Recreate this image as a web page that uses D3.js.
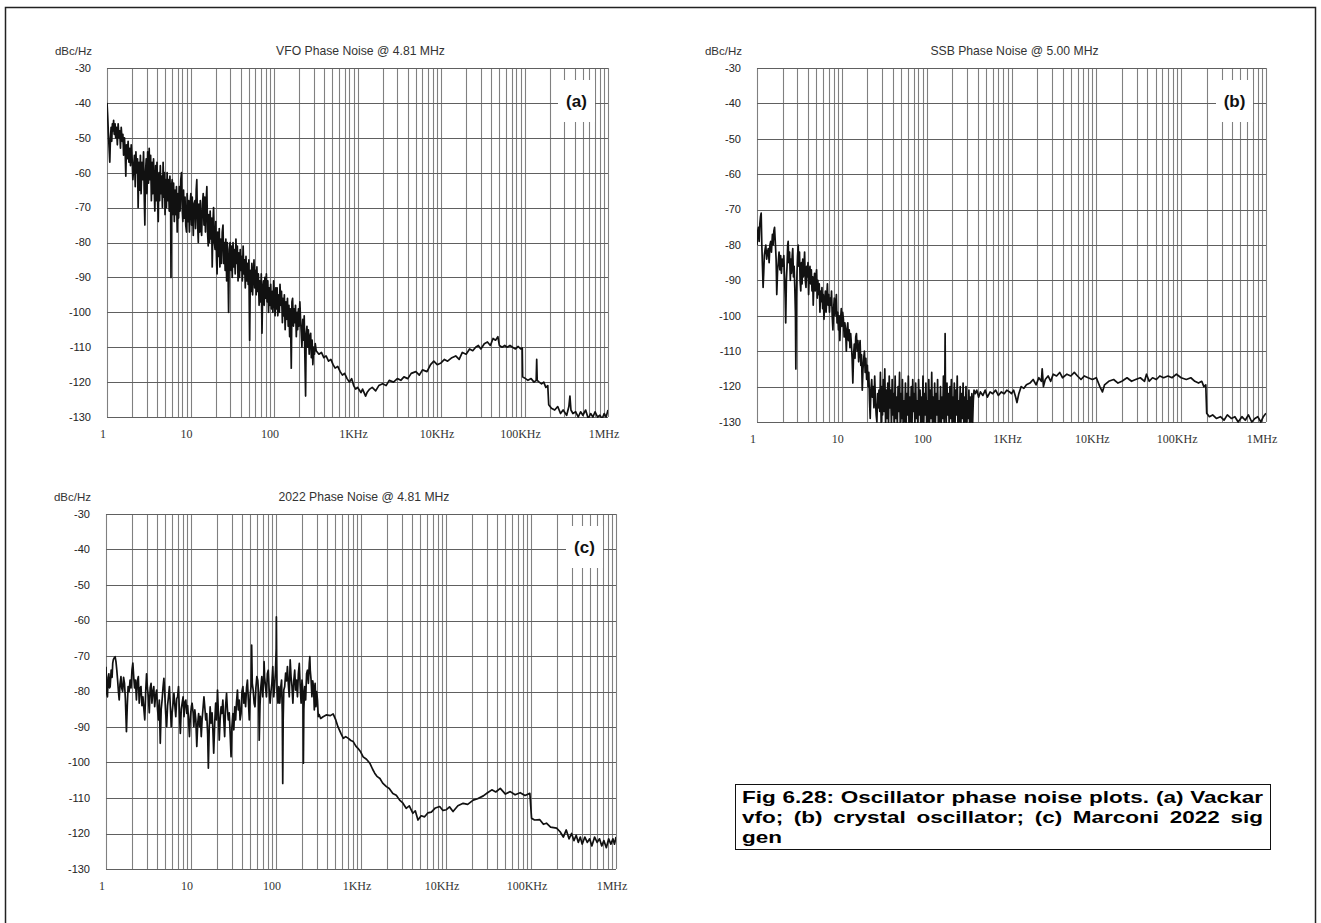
<!DOCTYPE html>
<html>
<head>
<meta charset="utf-8">
<script src="https://d3js.org/d3.v7.min.js"></script>
<style>
  body { margin: 0; background: #fff; }
  svg { font-family: "Liberation Sans", Arial, sans-serif; }
</style>
</head>
<body>
<script>
"use strict";

// ---- data ----
var yTicks = [-30, -40, -50, -60, -70, -80, -90, -100, -110, -120, -130];
var xTickValues = [1, 10, 100, 1e3, 1e4, 1e5, 1e6];
var xTickLabels = ["1", "10", "100", "1KHz", "10KHz", "100KHz", "1MHz"];

var panelTitles = ["VFO Phase Noise @ 4.81 MHz", "SSB Phase Noise @ 5.00 MHz", "2022 Phase Noise @ 4.81 MHz"];
var panelTags = ["(a)", "(b)", "(c)"];

// (a) Vackar VFO, [offset Hz, dBc/Hz]
var vfoNoise = [
  [1.00,-40],[1.02,-44],[1.04,-49],[1.06,-53],[1.08,-57],[1.10,-50],[1.12,-47],[1.14,-51],[1.16,-46],[1.18,-48],
  [1.20,-45],[1.22,-49],[1.25,-46],[1.27,-50],[1.30,-47],[1.33,-52],[1.36,-46],[1.39,-50],[1.42,-48],[1.45,-53],
  [1.48,-47],[1.52,-51],[1.55,-49],[1.58,-55],[1.62,-50],[1.65,-54],[1.68,-61],[1.71,-52],[1.75,-56],[1.79,-51],
  [1.83,-57],[1.87,-53],[1.91,-58],[1.95,-52],[2.0,-56],[2.04,-62],[2.08,-59],[2.13,-55],[2.18,-64],[2.22,-54],
  [2.27,-60],[2.32,-56],[2.36,-70],[2.41,-57],[2.46,-65],[2.51,-55],[2.56,-66],[2.62,-57],[2.68,-62],[2.74,-54],
  [2.80,-68],[2.84,-75],[2.89,-60],[2.95,-56],[3.01,-66],[3.07,-54],[3.14,-63],[3.2,-53],[3.26,-62],[3.33,-55],
  [3.40,-68],[3.47,-57],[3.54,-66],[3.61,-56],[3.68,-65],[3.74,-71],[3.82,-58],[3.90,-68],[3.97,-57],[4.05,-69],
  [4.11,-74],[4.19,-60],[4.27,-68],[4.35,-58],[4.43,-66],[4.52,-61],[4.61,-70],[4.70,-57],[4.79,-67],[4.88,-60],
  [4.96,-72],[5.05,-62],[5.15,-70],[5.25,-60],[5.35,-68],[5.45,-62],[5.56,-71],[5.67,-61],[5.78,-69],[5.84,-90],
  [5.92,-64],[6.04,-62],[6.16,-72],[6.28,-63],[6.4,-74],[6.53,-65],[6.66,-72],[6.79,-64],[6.93,-77],[7.07,-66],
  [7.2,-73],[7.35,-64],[7.5,-71],[7.65,-62],[7.8,-60],[7.95,-70],[8.1,-74],[8.26,-65],[8.42,-73],[8.6,-67],
  [8.77,-75],[8.95,-77],[9.12,-66],[9.3,-74],[9.5,-68],[9.7,-77],[9.9,-69],
  [10.1,-66],[10.3,-75],[10.5,-67],[10.8,-78],[11.0,-69],[11.3,-68],[11.5,-76],[11.7,-65],[11.9,-62],[12.1,-73],
  [12.4,-80],[12.6,-69],[12.9,-77],[13.1,-68],[13.4,-76],[13.6,-78],[13.9,-69],[14.2,-66],[14.5,-75],[14.8,-67],
  [15.1,-77],[15.4,-68],[15.7,-64],[16.0,-77],[16.3,-81],[16.6,-72],[16.9,-80],[17.2,-71],[17.5,-79],[17.9,-73],
  [18.2,-87],[18.6,-74],[18.9,-70],[19.3,-80],[19.7,-82],[20.1,-74],[20.5,-85],[20.8,-89],[21.2,-77],[21.7,-84],
  [22.1,-76],[22.5,-87],[23.0,-79],[23.5,-86],[24.0,-77],[24.5,-75],[25.0,-86],[25.5,-80],[26.0,-88],[26.5,-79],
  [27.1,-91],[27.6,-80],[28.1,-87],[28.6,-100],[29.2,-82],[29.8,-80],[30.4,-88],[31.0,-81],[31.6,-90],[32.3,-80],
  [32.9,-87],[33.6,-82],[34.3,-89],[35,-79],[35.7,-86],[36.4,-81],[37.1,-91],[37.9,-83],[38.6,-90],[39.4,-82],
  [40.2,-88],[41,-84],[41.8,-91],[42.7,-81],[43.5,-89],[44.4,-85],[45.3,-93],[46.2,-84],[47.1,-91],[48.1,-86],
  [49,-92],[50,-85],[51.1,-108],[52.1,-88],[53.2,-94],[54.3,-86],[55.4,-95],[56.5,-89],[57.6,-85],[58.8,-93],
  [60,-88],[61.2,-95],[62.4,-87],[63.7,-94],[65,-89],[66.3,-98],[67.6,-91],[69,-97],[70.4,-89],[71.8,-106],
  [73.3,-93],[74.8,-91],[76.3,-98],[77.8,-90],[79.4,-96],[81,-89],[82.6,-97],[84.3,-91],[86,-100],[87.7,-93],
  [89.5,-98],[91.3,-92],[93.2,-99],[95.1,-94],[97,-100],[99,-91],
  [101,-96],[103,-101],[105,-93],[107,-99],[109,-93],[111,-101],[114,-95],[116,-100],[118,-92],[121,-98],
  [123,-94],[126,-103],[128,-96],[131,-101],[133,-95],[136,-105],[139,-97],[142,-102],[145,-96],[148,-104],
  [151,-98],[154,-107],[157,-99],[161,-116],[164,-97],[167,-96],[171,-104],[174,-99],[178,-103],[181,-98],
  [185,-107],[189,-100],[192,-105],[196,-99],[200,-104],[204,-97],[208,-102],[212,-106],[216,-110],[221,-102],
  [225,-108],[230,-101],[234,-112],[239,-124],[243,-106],[248,-104],[253,-110],[258,-105],[264,-112],[269,-107],
  [275,-106],[280,-113],[286,-108],[292,-115],[298,-110],[305,-112],[312,-109],
  [320,-111],[345,-112],[370,-111.5],[395,-113],[420,-112.5],[450,-114],[480,-113.5],[510,-115],[540,-116],[580,-115.5],
  [620,-117],[660,-118],[700,-117.5],[750,-119],[800,-120],[850,-119],[900,-121],[950,-122],[1000,-121.5],[1100,-123],
  [1150,-122],[1250,-124],[1300,-123],[1400,-122],[1500,-121.5],[1650,-122.5],[1800,-121],[2000,-120.5],[2200,-121],[2400,-119.5],
  [2700,-120],[3000,-119],[3300,-119.5],[3600,-118.5],[4000,-119],[4400,-117.5],[5000,-117],[5500,-118],[6000,-116.5],[6800,-117],
  [7500,-115],[8200,-114],[9000,-115],[10000,-114.5],[11000,-113.5],[12000,-114],[13500,-113],[15000,-112.5],[16500,-113.5],[18000,-111.5],
  [20000,-112],[22000,-110.5],[24000,-111],[26000,-110],[28000,-109.5],[30000,-110.5],[33000,-109],[36000,-108.5],[39000,-109.5],[42000,-107.5],
  [45000,-108],[48000,-107],[50000,-109.5],[54000,-110],[58000,-109.5],[62000,-110],[67000,-109.5],[72000,-110],[78000,-110.5],[84000,-109.8],
  [90000,-110.5],[94000,-110.2],[95000,-118.5],[100000,-118.8],[110000,-119.5],[120000,-119],[130000,-120],[138000,-119.5],[140000,-113.5],[142000,-119.5],
  [150000,-120],[160000,-120.5],[170000,-120],[180000,-121.5],[190000,-121],[195000,-126.5],[210000,-127.5],[230000,-128],[250000,-127],[270000,-129],
  [290000,-128],[320000,-129.5],[340000,-127],[350000,-124],[360000,-128],[380000,-129],[410000,-128.5],[440000,-130],[470000,-128.5],[500000,-129.5],
  [540000,-128],[580000,-130.5],[620000,-129],[660000,-130],[700000,-128.5],[750000,-130],[800000,-129.5],[850000,-130.5],[900000,-129],[950000,-130],
  [1000000,-128]
];

// (b) crystal oscillator
var ssbNoise = [
  [1.00,-80],[1.02,-76],[1.04,-75],[1.06,-79],[1.08,-74],[1.10,-72],[1.12,-71],[1.14,-80],[1.16,-86],[1.18,-92],
  [1.20,-88],[1.22,-83],[1.25,-81],[1.27,-80],[1.30,-84],[1.33,-82],[1.36,-81],[1.39,-85],[1.42,-80],[1.45,-79],
  [1.48,-82],[1.52,-77],[1.55,-80],[1.58,-76],[1.61,-75],[1.65,-80],[1.68,-84],[1.71,-94],[1.75,-87],[1.78,-85],
  [1.82,-82],[1.86,-87],[1.90,-83],[1.94,-88],[1.98,-84],[2.03,-86],[2.07,-83],[2.11,-89],[2.15,-95],[2.18,-102],
  [2.22,-90],[2.26,-86],[2.30,-80],[2.33,-79],[2.37,-85],[2.42,-82],[2.47,-90],[2.51,-84],[2.55,-88],[2.60,-83],
  [2.64,-81],[2.69,-89],[2.74,-86],[2.79,-92],[2.84,-100],[2.87,-115],[2.91,-95],[2.96,-88],[3.01,-83],[3.06,-80],
  [3.11,-86],[3.17,-82],[3.22,-90],[3.28,-93],[3.34,-85],[3.40,-91],[3.46,-84],[3.52,-89],[3.58,-86],[3.64,-82],
  [3.71,-90],[3.78,-92],[3.85,-86],[3.92,-89],[3.99,-85],[4.06,-94],[4.13,-88],[4.21,-86],[4.29,-91],[4.37,-87],
  [4.45,-93],[4.53,-89],[4.6,-97],[4.68,-91],[4.77,-88],[4.86,-93],[4.95,-89],[5.04,-87],[5.13,-95],[5.22,-90],
  [5.32,-94],[5.42,-91],[5.52,-99],[5.62,-93],[5.72,-96],[5.83,-92],[5.94,-98],[6.05,-94],[6.16,-101],[6.28,-96],
  [6.4,-93],[6.52,-99],[6.64,-95],[6.76,-91],[6.89,-97],[7.02,-94],[7.15,-99],[7.28,-95],[7.42,-97],[7.56,-93],
  [7.7,-100],[7.85,-104],[8.0,-98],[8.15,-95],[8.3,-100],[8.46,-97],[8.62,-94],[8.78,-102],[8.95,-99],[9.12,-104],
  [9.3,-100],[9.48,-107],[9.66,-101],[9.85,-98],[10.04,-103],[10.24,-99],[10.44,-101],[10.65,-106],[10.86,-102],[11.07,-104],
  [11.3,-110],[11.52,-104],[11.75,-102],[11.98,-107],[12.22,-104],[12.46,-109],[12.71,-105],[12.96,-108],[13.22,-112],[13.48,-119],
  [13.75,-111],[14.02,-108],[14.3,-112],[14.58,-106],[14.87,-105],[15.17,-110],[15.47,-107],[15.78,-113],[16.09,-109],[16.41,-107],
  [16.74,-114],[17.07,-111],[17.41,-121],[17.76,-115],[18.11,-112],[18.47,-110],[18.84,-116],[19.2,-112],[19.6,-118],[20,-114],
  [20.4,-120],[20.8,-116],[21.2,-124],[21.6,-129],[22,-121],[22.5,-118],[22.9,-123],[23.4,-120],[23.9,-126],[24.4,-117],
  [24.9,-124],[25.4,-128],[25.9,-130],[26.4,-122],[26.9,-126],[27.4,-121],[28,-127],[28.5,-116],[29.1,-131],[29.6,-120],
  [30.2,-128],[30.8,-118],[31.5,-127],[32.1,-115],[32.8,-131],[33.4,-121],[34.1,-129],[34.8,-119],[35.5,-131],[36.2,-117],
  [36.9,-126],[37.7,-121],[38.4,-131],[39.2,-118],[40,-128],[40.8,-122],[41.6,-131],[42.5,-117],[43.3,-129],[44.2,-123],
  [45.1,-131],[46,-120],[46.9,-127],[47.9,-116],[48.8,-131],[49.8,-122],[50.8,-129],[51.8,-118],[52.9,-131],[54,-124],
  [55,-130],[56.2,-119],[57.3,-131],[58.4,-122],[59.6,-128],[60.8,-117],[62,-131],[63.3,-123],[64.5,-130],[65.8,-120],
  [67.2,-131],[68.5,-118],[69.9,-127],[71.3,-122],[72.7,-131],[74.2,-119],[75.7,-129],[77.2,-124],[78.7,-131],[80.3,-118],
  [81.9,-128],[83.6,-121],[85.2,-131],[87,-123],[88.7,-130],[90.5,-117],[92.3,-131],[94.1,-122],[96,-128],[97.9,-119],
  [99.9,-131],[102,-124],[104,-130],[106,-118],[108,-131],[110,-121],[112.5,-129],[114.7,-116],[117,-131],[119.4,-123],
  [121.8,-130],[124.2,-119],[126.7,-131],[129.2,-122],[131.8,-128],[134.5,-118],[137.2,-131],[140,-124],[142.7,-130],[145.6,-120],
  [148.5,-131],[151.5,-123],[154.5,-129],[157.6,-117],[160.8,-131],[163.4,-121],[165,-105],[166.8,-124],[170,-131],[173.6,-119],
  [177,-128],[180.6,-122],[184.2,-131],[188,-120],[191.7,-129],[195.5,-118],[199.4,-131],[203.4,-123],[207.5,-130],[211.7,-119],
  [216,-131],[220.3,-121],[224.7,-128],[229.2,-117],[233.8,-131],[238.5,-124],[243.3,-130],[248.2,-120],[253.1,-131],[258.2,-122],
  [263.4,-129],[268.7,-119],[274,-131],[279.5,-123],[285.1,-130],[290.8,-120],[296.6,-131],[302.6,-124],[308.6,-129],[314.8,-121],
  [321.1,-131],[327.6,-123],[334.1,-130],[340.8,-122],[347.6,-131],[354.6,-124],[361.7,-121],
  [375,-122],[390,-121],[410,-123],[430,-121.5],[460,-122.5],[490,-121],[520,-123],[560,-121.5],[600,-122],[650,-121],
  [700,-122.5],[760,-121.5],[820,-122],[880,-121],[950,-121.5],[1000,-122],[1060,-121],[1120,-123],[1160,-124.5],[1220,-122],
  [1300,-120],[1400,-120.5],[1500,-119.5],[1650,-119],[1800,-118],[1950,-119.5],[2100,-117.5],[2250,-118.5],[2300,-115],[2380,-120],
  [2500,-118],[2700,-117],[2900,-118.5],[3100,-116.5],[3400,-117],[3700,-116],[4000,-117.5],[4500,-116.5],[5000,-117],[5500,-116],
  [6000,-117],[6600,-118],[7200,-117],[8000,-117.5],[9000,-118],[10000,-117.5],[11000,-120],[11800,-121.5],[12500,-119.5],[14000,-118.5],
  [16000,-118],[18000,-119],[20000,-118.5],[23000,-117.5],[26000,-118.5],[29000,-118],[33000,-117.5],[37000,-118.5],[39000,-116.5],[42000,-118.5],
  [46000,-117.5],[51000,-118],[56000,-117],[62000,-117.5],[70000,-117],[78000,-117.5],[88000,-116.5],[100000,-117.5],[115000,-118],[130000,-117.5],
  [145000,-118.5],[160000,-119],[175000,-118.5],[185000,-120],[195000,-119.5],[200000,-127.5],[215000,-128.5],[235000,-128],[260000,-129],[290000,-128.5],
  [320000,-129.5],[350000,-128],[390000,-129],[430000,-128.5],[470000,-130],[520000,-128.5],[570000,-129.5],[620000,-128],[680000,-130],[740000,-129],
  [800000,-128.5],[870000,-130],[930000,-128.5],[1000000,-127.5]
];

// (c) Marconi 2022 signal generator
var sigGenNoise = [
  [1.00,-73],[1.02,-80.5],[1.04,-81.5],[1.06,-76],[1.08,-75],[1.10,-79],[1.12,-78.6],[1.15,-74],[1.18,-76],[1.20,-72],
  [1.22,-71],[1.25,-70.5],[1.28,-70.2],[1.31,-71.6],[1.34,-74],[1.37,-76.8],[1.40,-80],[1.43,-82.4],[1.46,-78],[1.50,-75.8],
  [1.53,-79],[1.57,-80],[1.61,-76],[1.65,-77.7],[1.69,-82],[1.74,-91.3],[1.78,-84],[1.82,-78.6],[1.87,-80],[1.92,-76.8],
  [1.97,-79],[2.02,-74],[2.07,-72],[2.12,-76],[2.17,-79],[2.22,-76.8],[2.28,-82.4],[2.34,-77],[2.40,-75.8],[2.46,-83.3],
  [2.52,-79],[2.58,-78.6],[2.65,-84],[2.72,-81.5],[2.79,-85],[2.86,-88],[2.93,-80],[3.00,-75],[3.07,-79],[3.15,-81.5],
  [3.23,-86],[3.31,-79],[3.39,-77.7],[3.47,-83.3],[3.56,-80],[3.65,-78.6],[3.74,-84.3],[3.84,-81],[3.94,-79.6],[4.04,-85],
  [4.14,-88],[4.24,-82.4],[4.35,-94.6],[4.46,-85],[4.57,-82.4],[4.68,-79],[4.80,-76.3],[4.92,-81],[5.04,-86.2],[5.17,-89.9],
  [5.30,-84],[5.43,-81.5],[5.57,-78.6],[5.71,-84],[5.85,-89.9],[6.0,-86],[6.15,-83.3],[6.3,-80.5],[6.46,-84],[6.62,-87.1],
  [6.79,-82],[6.96,-81.5],[7.13,-78.6],[7.31,-86],[7.49,-91.8],[7.68,-85],[7.87,-83.3],[8.07,-81.5],[8.27,-87.1],[8.48,-83],
  [8.69,-82.4],[8.91,-86.2],[9.13,-84],[9.36,-88],[9.59,-92.7],[9.83,-87],[10.1,-84.3],[10.3,-83.3],[10.6,-86],[10.8,-89.9],
  [11.1,-85.2],[11.4,-88],[11.7,-95.5],[12.0,-89],[12.3,-86.2],[12.6,-89.9],[12.9,-87],[13.2,-92.7],[13.5,-88],[13.9,-84.3],
  [14.2,-81.5],[14.6,-85],[14.9,-88],[15.3,-86.2],[15.7,-92],[16.0,-101.6],[16.4,-90],[16.8,-84.3],[17.2,-88.9],[17.7,-86],
  [18.1,-91],[18.5,-97.4],[19.0,-89],[19.5,-83.3],[20.0,-88],[20.5,-79.6],[21.0,-86],[21.5,-93.7],[22.0,-88],[22.6,-84.3],
  [23.1,-86.2],[23.7,-82.4],[24.3,-88],[24.9,-92.7],[25.5,-84.3],[26.2,-80.5],[26.8,-85],[27.5,-88],[28.2,-86],[28.9,-92],
  [29.6,-98.4],[30.3,-90],[31.1,-86.2],[31.9,-90.8],[32.7,-84.3],[33.5,-88],[34.3,-83],[35.2,-79.6],[36.0,-85.2],[36.9,-82.4],
  [37.8,-88],[38.8,-86.2],[39.8,-80],[40.8,-78.6],[41.8,-83.3],[42.8,-80.5],[43.9,-84.3],[45.0,-79],[46.1,-76.8],[47.3,-82.4],
  [48.5,-88],[49.7,-81],[50.9,-78.6],[51.7,-66.9],[52.6,-77.7],[53.9,-79.6],[55.3,-83.3],[56.6,-84.3],[58.0,-79],[59.5,-75.8],
  [61.0,-76.8],[62.5,-80.5],[63.5,-93.7],[64.8,-84],[66.4,-78.6],[68.1,-75.8],[69.8,-81.5],[71.5,-77],[72.4,-71.6],[73.5,-76],
  [75.3,-78.6],[77.2,-81.5],[79.1,-75],[81.1,-74],[83.1,-79.6],[85.2,-83.3],[87.3,-80],[89.4,-77.7],[91.7,-73],[94.0,-81.5],
  [96.3,-78.6],[98.7,-74],[100.5,-68],[101,-59],[101.8,-70],[103,-80],[105.5,-83.3],[108,-78.6],[110.8,-83.3],[113.5,-79],
  [116.3,-76.8],[118.5,-86],[120,-105.9],[121.5,-88],[123.5,-79.6],[126.6,-78.6],[129.8,-74.8],[133,-77],[136.3,-73],[139.7,-78],
  [143.2,-81.5],[146.8,-71.1],[150.5,-76],[154.2,-78.6],[158,-83.3],[162,-77],[166,-74],[170.2,-79.6],[174.5,-76.8],[178.8,-81.5],
  [183.3,-75],[187.9,-72.1],[192.6,-78.6],[197.4,-83.3],[202.3,-76.8],[207.4,-80],[210,-100.2],[212.6,-85],[217.9,-78.6],[223.3,-82.4],
  [228.9,-75],[234.6,-74],[240.5,-77.7],[246.5,-72],[250,-70.2],[253,-74],[258.8,-76.8],[264.6,-81.5],[270.5,-77],[276.4,-78.6],
  [282.4,-85.2],[288.5,-77.7],[294.7,-84.3],[301,-80],[307.4,-82.4],[314,-87.1],
  [322,-86.5],[335,-87.6],[358,-87.1],[390,-86.6],[436,-86.8],[470,-86.3],[505,-88],[535,-89.9],[580,-91.8],[620,-93.2],
  [660,-92.7],[710,-93.2],[760,-93.8],[810,-94.1],[870,-95.4],[920,-96],[990,-97],[1060,-98.4],[1160,-99.1],[1270,-100.2],
  [1370,-101.9],[1450,-103],[1540,-103.9],[1670,-104.5],[1800,-105.8],[1990,-106.8],[2150,-107.3],[2370,-108.7],[2600,-109.2],[2850,-110.6],
  [3100,-111.4],[3400,-112.9],[3700,-112.2],[4080,-114.3],[4350,-113.6],[4680,-116.2],[5100,-115],[5600,-115.3],[6100,-114.2],[6720,-114],
  [7500,-112.8],[8430,-112.4],[9200,-113.5],[10100,-113.3],[11000,-112.5],[12100,-113.8],[13800,-112.2],[15900,-111.5],[18000,-111.8],[20900,-110.6],
  [23500,-110.2],[27500,-109.4],[30500,-108.6],[34600,-107.7],[38500,-108.3],[43500,-107.3],[50000,-108.9],[57000,-108.2],[65000,-109.1],[74600,-108.5],
  [85000,-109.3],[97000,-108.7],[101500,-115.7],[110000,-116.2],[127000,-116.1],[140000,-117.4],[152000,-117.1],[170000,-118.2],[200000,-118.5],[220000,-119.5],
  [240000,-121],[260000,-119],[280000,-121.5],[300000,-120],[320000,-122],[340000,-120.5],[360000,-122.5],[380000,-121],[400000,-123],[430000,-121],
  [460000,-122.5],[490000,-121.5],[520000,-123.5],[560000,-121],[600000,-122.5],[640000,-121.5],[680000,-123.5],[720000,-122],[770000,-124],[820000,-121.5],
  [870000,-123],[920000,-121.5],[960000,-123],[1000000,-121]
];

var captionLines = [
  "Fig 6.28: Oscillator phase noise plots. (a) Vackar",
  "vfo; (b) crystal oscillator; (c) Marconi 2022 sig",
  "gen"
];

// ---- drawing ----
var width = 1321, height = 923;

var svg = d3.select("body").append("svg")
    .attr("width", width)
    .attr("height", height);

// page frame
svg.append("rect")
    .attr("x", 5.5).attr("y", 7.5)
    .attr("width", 1310).attr("height", 940)
    .attr("fill", "none")
    .attr("stroke", "#222")
    .attr("stroke-width", 1.5);

var panels = [
  {x: 107, y: 68, w: 501, h: 349, data: vfoNoise},
  {x: 757, y: 68, w: 509, h: 354, data: ssbNoise},
  {x: 106, y: 514, w: 510, h: 355, data: sigGenNoise}
];

// all 1..9 x decade grid positions
var minorTicks = [];
for (var d = 1; d < 1e6; d *= 10) {
  for (var k = 1; k < 10; k++) minorTicks.push(d * k);
}
minorTicks.push(1e6);

panels.forEach(function(p, i) {
  var g = svg.append("g").attr("transform", "translate(" + p.x + "," + p.y + ")");

  var x = d3.scaleLog().domain([1, 1e6]).range([0, p.w]);
  var y = d3.scaleLinear().domain([-130, -30]).range([p.h, 0]);

  // grid
  g.append("g").selectAll("line")
    .data(minorTicks)
    .enter().append("line")
      .attr("x1", function(f) { return Math.round(x(f)) + 0.5; })
      .attr("x2", function(f) { return Math.round(x(f)) + 0.5; })
      .attr("y1", 0).attr("y2", p.h)
      .attr("stroke", "#808080")
      .attr("stroke-width", 1.1);

  g.append("g").selectAll("line")
    .data(yTicks)
    .enter().append("line")
      .attr("x1", 0).attr("x2", p.w)
      .attr("y1", function(v) { return Math.round(y(v)) + 0.5; })
      .attr("y2", function(v) { return Math.round(y(v)) + 0.5; })
      .attr("stroke", "#606060")
      .attr("stroke-width", 1.1);

  // y labels
  g.append("g").selectAll("text")
    .data(yTicks)
    .enter().append("text")
      .attr("x", -16)
      .attr("y", function(v) { return y(v); })
      .attr("dy", "0.35em")
      .attr("text-anchor", "end")
      .style("font-size", "11px")
      .style("fill", "#222")
      .text(function(v) { return v; });

  // x labels
  g.append("g").selectAll("text")
    .data(xTickValues)
    .enter().append("text")
      .attr("x", function(f) { return x(f) - 4; })
      .attr("y", p.h + 21)
      .attr("text-anchor", "middle")
      .style("font-family", "'Liberation Serif', 'Times New Roman', serif")
      .style("font-size", "12px")
      .style("fill", "#333")
      .text(function(f, j) { return xTickLabels[j]; });

  // unit + title
  g.append("text")
    .attr("x", -15).attr("y", -13)
    .attr("text-anchor", "end")
    .style("font-size", "11.5px")
    .style("fill", "#333")
    .text("dBc/Hz");

  g.append("text")
    .attr("x", p.w / 2 + 3).attr("y", -13)
    .attr("text-anchor", "middle")
    .style("font-size", "12.2px")
    .style("fill", "#333")
    .text(panelTitles[i]);

  // trace
  var clipId = "clip" + i;
  g.append("clipPath").attr("id", clipId)
    .append("rect").attr("x", 0).attr("y", -2).attr("width", p.w).attr("height", p.h + 3);

  var line = d3.line()
    .x(function(d) { return x(d[0]); })
    .y(function(d) { return y(d[1]); });

  g.append("path")
    .datum(p.data)
    .attr("clip-path", "url(#" + clipId + ")")
    .attr("d", line)
    .attr("fill", "none")
    .attr("stroke", "#111")
    .attr("stroke-width", 1.7)
    .attr("stroke-linejoin", "round");

  // panel tag in a white box
  g.append("rect")
    .attr("x", p.w - 50).attr("y", 12)
    .attr("width", 37).attr("height", 42)
    .attr("fill", "#fff");

  g.append("text")
    .attr("x", p.w - 31.5).attr("y", 39)
    .attr("text-anchor", "middle")
    .style("font-size", "17px")
    .style("font-weight", "bold")
    .style("fill", "#111")
    .text(panelTags[i]);
});

// caption box
var cap = svg.append("g");
cap.append("rect")
    .attr("x", 735.5).attr("y", 784.5)
    .attr("width", 535).attr("height", 65)
    .attr("fill", "#fff")
    .attr("stroke", "#111")
    .attr("stroke-width", 1);

// the scanned caption is wider than plain Arial, so stretch it and justify by word
var capLeft = 742, capWidth = 521, capFont = 16.5;

function wordWidth(t) {
  var tmp = svg.append("text")
      .style("font-size", capFont + "px")
      .style("font-weight", "bold")
      .text(t);
  var w = tmp.node().getComputedTextLength();
  tmp.remove();
  return w;
}

var firstWidth = wordWidth(captionLines[0]);
var sx = (capWidth - 4) / firstWidth;
var spaceW = wordWidth("a a") - wordWidth("aa");

captionLines.forEach(function(t, i) {
  var words = t.split(" ");
  var widths = words.map(wordWidth);
  var total = d3.sum(widths);
  var gap = spaceW;
  if (i < captionLines.length - 1) gap = (capWidth / sx - total) / (words.length - 1);

  var txt = cap.append("text")
      .attr("transform", "translate(" + capLeft + "," + (803 + i * 20) + ") scale(" + sx + ",1)")
      .style("font-size", capFont + "px")
      .style("font-weight", "bold")
      .style("fill", "#000");

  var pos = 0;
  words.forEach(function(w, j) {
    txt.append("tspan").attr("x", pos).attr("y", 0).text(w);
    pos += widths[j] + gap;
  });
});
</script>
</body>
</html>
